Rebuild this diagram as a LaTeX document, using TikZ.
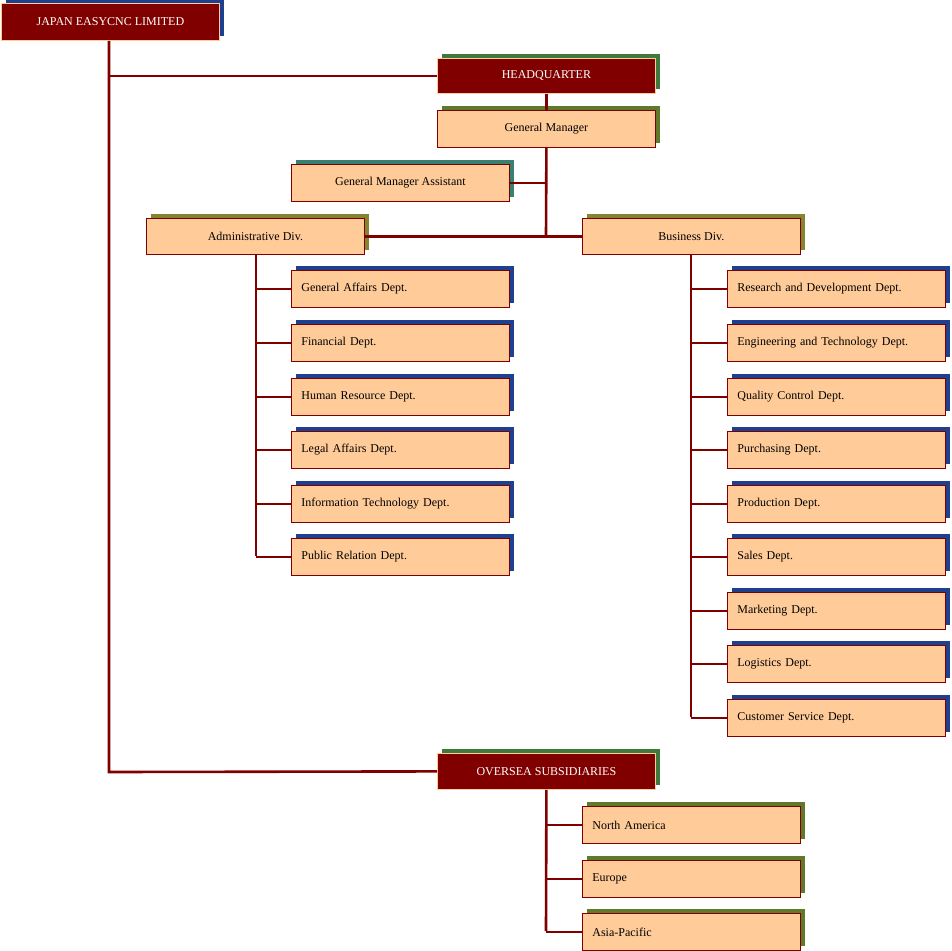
\documentclass[tikz,border=0pt]{standalone}
\usepackage{fontspec}
\setmainfont{Liberation Serif}
\usetikzlibrary{shadows}
\definecolor{dred}{HTML}{800000}
\definecolor{peach}{HTML}{FFCC99}
\definecolor{shblue}{HTML}{1F3F8F}
\definecolor{shgreen}{HTML}{3F7A3A}
\definecolor{sholive}{HTML}{5F7A2A}
\definecolor{shteal}{HTML}{3A7F6F}
\definecolor{shkhaki}{HTML}{85852F}
\tikzset{
 x=1pt,y=-1pt,
 sh/.style={copy shadow={shadow xshift=5pt,shadow yshift=4pt,fill=#1,draw=none}},
 dark/.style={rectangle,fill=dred,draw=peach,line width=0.8pt,text=white,minimum width=218pt,minimum height=35pt,anchor=north west,inner sep=0pt,font=\fontsize{12}{14}\selectfont},
 light/.style={rectangle,fill=peach,draw=dred,line width=0.8pt,text=black,minimum width=218pt,minimum height=37pt,anchor=north west,inner sep=0pt,font=\fontsize{12}{14}\selectfont},
 leftt/.style={light,text width=198pt,align=left},
 conn/.style={draw=dred,line width=2.6pt},
}
\begin{document}
\begin{tikzpicture}
\useasboundingbox (0,0) rectangle (952,950);
\node[dark,sh=shblue,minimum height=37pt] (jp) at (1,3) {JAPAN EASYCNC LIMITED};
\node[dark,sh=shgreen] (hq) at (437,58) {HEADQUARTER};
\node[light,sh=sholive] (gm) at (437,110) {General Manager};
\node[light,sh=shteal] (gma) at (291,164) {General Manager Assistant};
\node[light,sh=shkhaki,minimum height=36pt] (ad) at (146,218) {Administrative Div.};
\node[light,sh=shkhaki,minimum height=36pt] (bd) at (582,218) {Business Div.};
\foreach \t/\y [count=\i] in {General Affairs Dept./270,Financial Dept./324,Human Resource Dept./378,Legal Affairs Dept./431,Information Technology Dept./485,Public Relation Dept./538}
  \node[leftt,sh=shblue] (l\i) at (291,\y) {\t};
\foreach \t/\y [count=\i] in {Research and Development Dept./270,Engineering and Technology Dept./324,Quality Control Dept./378,Purchasing Dept./431,Production Dept./485,Sales Dept./538,Marketing Dept./592,Logistics Dept./645,Customer Service Dept./699}
  \node[leftt,sh=shblue] (r\i) at (727,\y) {\t};
\node[dark,sh=shgreen,minimum height=36pt] (os) at (437,753) {OVERSEA SUBSIDIARIES};
\foreach \t/\y [count=\i] in {North America/806,Europe/860,Asia-Pacific/913}
  \node[leftt,sh=sholive] (s\i) at (582,\y) {\t};
% connectors
\coordinate (jt) at (109,772);
\draw[conn] (jp.south -| jt) -- (jt) -- (os.west);
\draw[conn] (jp.south -| jt) |- (hq.west);
\draw[conn] (hq.south) -- (gm.north);
\coordinate (gmj) at (546,236);
\draw[conn] (gm.south) -- (gmj);
\draw[conn] (gma.east) -- (gma.east -| gmj);
\draw[conn] (ad.east) -- (bd.west);
\coordinate (at) at (256,556);
\draw[conn] (ad.south -| at) -- (at);
\foreach \i in {1,...,6} \draw[conn] (l\i.west -| at) -- (l\i.west);
\coordinate (bt) at (691,717);
\draw[conn] (bd.south -| bt) -- (bt);
\foreach \i in {1,...,9} \draw[conn] (r\i.west -| bt) -- (r\i.west);
\coordinate (ot) at (546,931);
\draw[conn] (os.south) -- (ot);
\foreach \i in {1,...,3} \draw[conn] (s\i.west -| ot) -- (s\i.west);
\end{tikzpicture}
\end{document}
